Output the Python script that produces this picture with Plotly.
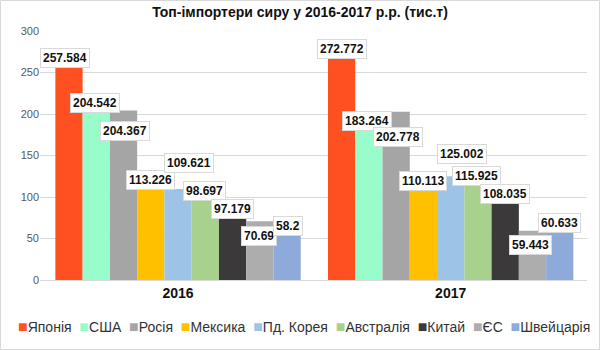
import plotly.graph_objects as go

# Cheese import volumes, thousand tonnes
years = ["2016", "2017"]
countries = ["Японія", "США", "Росія", "Мексика", "Пд. Корея",
             "Австралія", "Китай", "ЄС", "Швейцарія"]
values_2016 = [257.584, 204.542, 204.367, 113.226, 109.621, 98.697, 97.179, 70.69, 58.2]
values_2017 = [272.772, 183.264, 202.778, 110.113, 125.002, 115.925, 108.035, 59.443, 60.633]
colors = ["#FF5022", "#99FDCB", "#A5A5A5", "#FFC000", "#9DC3E6",
          "#A9D18E", "#3B3939", "#ADADAD", "#8EAADB"]

# Label offsets (px) relative to the top of each bar: (xshift, yshift)
label_shift_2016 = [(-4, 8), (-1, 7), (1, -21), (0, 6), (11, 26),
                    (-1, 7), (0, -10), (-1, -15), (1, 6)]
label_shift_2017 = [(0, 5), (-2, 7), (2, -25), (0, 8), (11, 22),
                    (-1, 8), (0, -4), (-2, -14), (0, 7)]

NARROW = "Liberation Sans Narrow, Liberation Sans, Arial"

fig = go.Figure()
for i, name in enumerate(countries):
    fig.add_trace(go.Bar(
        name=name,
        x=years,
        y=[values_2016[i], values_2017[i]],
        marker=dict(color=colors[i], line=dict(width=0)),
        showlegend=False,
    ))

bargap = 0.1
n = len(countries)
bar_w = (1 - bargap) / n
label_font = dict(family=NARROW, size=12, color="#111111")
annotations = []
for yi, (vals, shifts) in enumerate([(values_2016, label_shift_2016),
                                      (values_2017, label_shift_2017)]):
    for i, v in enumerate(vals):
        annotations.append(dict(
            x=yi + (i - (n - 1) / 2) * bar_w, y=v, xref="x", yref="y",
            text=f"<b>{v:g}</b>", showarrow=False,
            xshift=shifts[i][0], yshift=shifts[i][1],
            font=label_font, bgcolor="white", bordercolor="#D9D9D9",
            borderwidth=1, borderpad=2,
        ))

# Legend line built from the series names and colours
legend_parts = [f"<span style='color:{c};font-size:16px'>■</span>{name}"
                for name, c in zip(countries, colors)]
annotations.append(dict(
    x=0.483, y=-0.185, xref="paper", yref="paper", xanchor="center", yanchor="middle",
    text="\u00a0\u00a0".join(legend_parts), showarrow=False,
    font=dict(family=NARROW, size=14, color="#333333"),
))

fig.update_layout(
    width=600, height=350,
    margin=dict(l=40, r=13, t=31, b=70),
    paper_bgcolor="white", plot_bgcolor="white",
    barmode="group", bargap=bargap, bargroupgap=0,
    title=dict(text="<b>Топ-імпортери сиру у 2016-2017 р.р. (тис.т)</b>",
               x=0.5, xanchor="center", y=0.965, yanchor="middle",
               font=dict(family="Liberation Sans, Arial", size=14, color="#111111")),
    xaxis=dict(type="category", showgrid=False, showline=True, linecolor="#D9D9D9",
               ticks="", tickfont=dict(family=NARROW, size=14, color="#111111", weight="bold")),
    yaxis=dict(range=[0, 300], tickvals=[0, 50, 100, 150, 200, 250, 300],
               showgrid=True, gridcolor="#D9D9D9", gridwidth=1, zeroline=False,
               showline=False, ticks="", ticklen=0,
               tickfont=dict(family="Liberation Sans, Arial", size=11, color="#595959")),
    annotations=annotations,
    shapes=[dict(type="rect", xref="paper", yref="paper",
                 x0=-0.0722, x1=1.0229, y0=-0.279, y1=1.1225,
                 line=dict(color="#D9D9D9", width=1))],
)

fig.write_html("out.html")
